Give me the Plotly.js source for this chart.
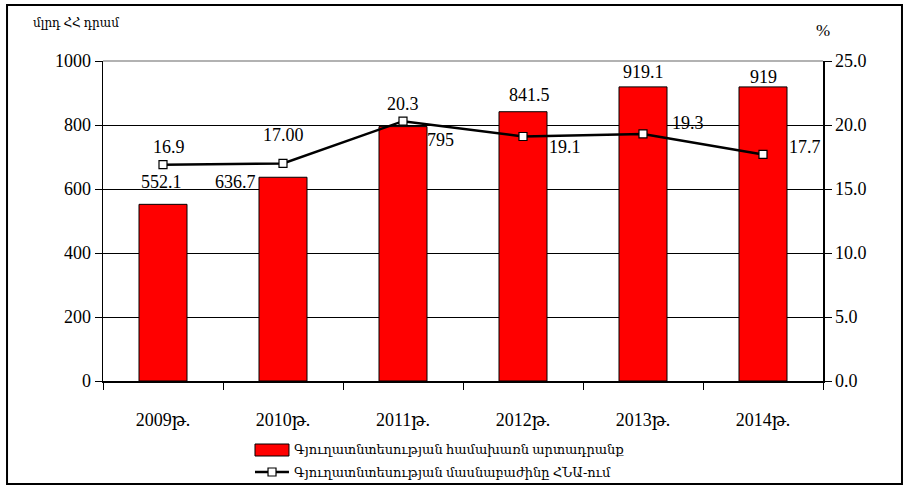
<!DOCTYPE html>
<html>
<head>
<meta charset="utf-8">
<script src="https://cdn.plot.ly/plotly-3.0.1.min.js"></script>
<style>html,body{margin:0;padding:0;background:#fff}#chart{width:907px;height:488px}</style>
</head>
<body>
<div id="chart"></div>
<script>
const categories = ["2009թ.", "2010թ.", "2011թ.", "2012թ.", "2013թ.", "2014թ."];
const outputValues = [552.1, 636.7, 795, 841.5, 919.1, 919];
const outputLabels = ["552.1", "636.7", "795", "841.5", "919.1", "919"];
const shareValues = [16.9, 17.0, 20.3, 19.1, 19.3, 17.7];
const shareLabels = ["16.9", "17.00", "20.3", "19.1", "19.3", "17.7"];
const barName = "Գյուղատնտեսության համախառն արտադրանք";
const lineName = "Գյուղատնտեսության մասնաբաժինը ՀՆԱ-ում";
const leftTitle = "մլրդ ՀՀ դրամ";
const rightTitle = "%";

const FONT = 'Times New Roman, Liberation Serif, Tinos, DejaVu Serif, serif';
const NUMSIZE = 18;

// label offsets in screen pixels [dx, dy(down)]
const barShift = [[-2, -22], [-48, 5], [37, 13], [6, -17], [0, -15], [0, -10]];
const lineShift = [[6, -18], [0, -28], [0, -17], [42, 10], [45, -11], [42, -7]];

const annotations = [];
categories.forEach((c, i) => {
  annotations.push({x: c, y: outputValues[i], xref: 'x', yref: 'y', text: outputLabels[i], showarrow: false,
    xshift: barShift[i][0], yshift: -barShift[i][1], font: {family: FONT, size: NUMSIZE, color: '#000'}});
  annotations.push({x: c, y: shareValues[i], xref: 'x', yref: 'y2', text: shareLabels[i], showarrow: false,
    xshift: lineShift[i][0], yshift: -lineShift[i][1], font: {family: FONT, size: NUMSIZE, color: '#000'}});
});
annotations.push({xref: 'paper', yref: 'paper', x: -0.1, y: 1.12, xanchor: 'left', yanchor: 'middle',
  text: leftTitle, showarrow: false, font: {family: FONT, size: 12, color: '#000'}});
annotations.push({xref: 'paper', yref: 'paper', x: 1.0, y: 1.095, xanchor: 'center', yanchor: 'middle',
  text: rightTitle, showarrow: false, font: {family: FONT, size: 17, color: '#000'}});
// legend text (drawn manually so the swatches match the reference)
annotations.push({xref: 'paper', yref: 'paper', x: 0.2625, y: -0.2156, xanchor: 'left', yanchor: 'middle',
  text: barName, showarrow: false, font: {family: FONT, size: 13, color: '#000'}});
annotations.push({xref: 'paper', yref: 'paper', x: 0.2625, y: -0.2844, xanchor: 'left', yanchor: 'middle',
  text: lineName, showarrow: false, font: {family: FONT, size: 13, color: '#000'}});

const data = [
  {type: 'bar', x: categories, y: outputValues, name: barName, width: 0.4, showlegend: false,
   marker: {color: '#FF0000', line: {color: '#000', width: 1}}},
  {type: 'scatter', mode: 'lines+markers', x: categories, y: shareValues, name: lineName, yaxis: 'y2', showlegend: false,
   line: {color: '#000', width: 2.5},
   marker: {symbol: 'square', size: 8, color: '#fff', line: {color: '#000', width: 1.2}}}
];

const layout = {
  width: 907, height: 488,
  margin: {l: 103, r: 84, t: 61, b: 107},
  paper_bgcolor: '#fff', plot_bgcolor: '#fff',
  font: {family: FONT, size: NUMSIZE, color: '#000'},
  showlegend: false,
  bargap: 0.6,
  xaxis: {type: 'category', showline: true, linecolor: '#000', linewidth: 1.5, ticks: 'outside',
    tickson: 'boundaries', ticklen: 7, tickcolor: '#000', showgrid: false, zeroline: false,
    tickangle: 0, ticklabelstandoff: 22, tickfont: {family: FONT, size: NUMSIZE}},
  yaxis: {range: [0, 1000], tickvals: [0, 200, 400, 600, 800, 1000], showline: true, linecolor: '#000', linewidth: 1.5,
    ticks: 'outside', ticklen: 7, tickcolor: '#000', showgrid: true, gridcolor: '#000', gridwidth: 1,
    zeroline: false, tickfont: {family: FONT, size: NUMSIZE}},
  yaxis2: {overlaying: 'y', side: 'right', range: [0, 25], tickvals: [0, 5, 10, 15, 20, 25],
    ticktext: ['0.0', '5.0', '10.0', '15.0', '20.0', '25.0'], showline: true, linecolor: '#000', linewidth: 1.5,
    ticks: 'outside', ticklen: 7, tickcolor: '#000', showgrid: false, zeroline: false,
    tickfont: {family: FONT, size: NUMSIZE}},
  annotations: annotations,
  shapes: [
    {type: 'line', xref: 'paper', yref: 'paper', x0: 0, x1: 1, y0: 1, y1: 1, line: {color: '#999', width: 1.5}, layer: 'above'},
    {type: 'rect', xref: 'paper', yref: 'paper', x0: -0.1333, x1: 1.1097, y0: -0.322, y1: 1.175,
     line: {color: '#000', width: 2}},
    // legend swatches
    {type: 'rect', xref: 'paper', yref: 'paper', x0: 0.2111, x1: 0.2583, y0: -0.2344, y1: -0.1969,
     fillcolor: '#FF0000', line: {color: '#000', width: 1}},
    {type: 'line', xref: 'paper', yref: 'paper', x0: 0.2111, x1: 0.2583, y0: -0.2844, y1: -0.2844,
     line: {color: '#000', width: 2.5}},
    {type: 'rect', xref: 'paper', yref: 'paper', x0: 0.2292, x1: 0.2403, y0: -0.2969, y1: -0.2719,
     fillcolor: '#fff', line: {color: '#000', width: 1.2}}
  ]
};

Plotly.newPlot('chart', data, layout, {displayModeBar: false, staticPlot: true});
</script>
</body>
</html>
